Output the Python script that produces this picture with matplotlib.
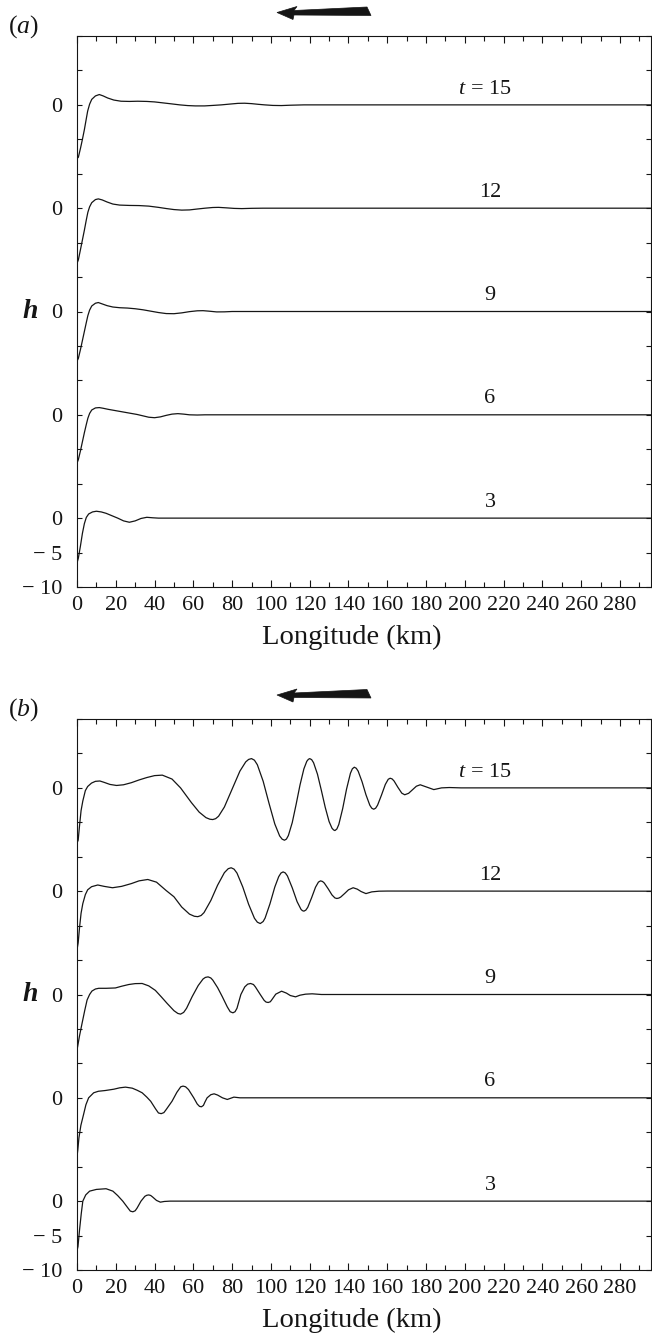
import matplotlib
matplotlib.use("Agg")
import matplotlib.pyplot as plt
from matplotlib.patches import Polygon
from matplotlib.ticker import FixedLocator, MultipleLocator
import matplotlib.transforms as mtransforms

plt.rcParams["font.family"] = ["Liberation Serif", "DejaVu Serif"]
plt.rcParams["mathtext.fontset"] = "custom"
plt.rcParams["mathtext.rm"] = "Liberation Serif"
plt.rcParams["mathtext.it"] = "Liberation Serif:italic"

# ---- times of the profiles (hours) ----
times = [3, 6, 9, 12, 15]

# ---- panel (a): surface elevation h along the section ----
km_a3 = [0, 0.7, 1.8, 2.8, 3.8, 4.8, 6, 8, 10, 12.5, 15, 18, 21, 24, 27, 30, 33, 36, 39, 42, 296]
h_a3 = [-6.5, -5.8, -4.0, -2.2, -0.8, 0.1, 0.6, 0.9, 1.0, 0.9, 0.7, 0.35, 0.0, -0.4, -0.6, -0.4, -0.05, 0.12, 0.05, 0.0, 0.0]

km_a6 = [0, 0.7, 1.8, 2.8, 3.8, 4.8, 5.6, 6.5, 7.6, 9.5, 11.5, 13.5, 16, 19, 22, 25, 28, 31, 34, 37,
         40, 43, 46, 49, 52, 55, 58, 62, 66, 296]
h_a6 = [-7.0, -6.5, -5.2, -3.9, -2.6, -1.4, -0.5, 0.2, 0.7, 1.0, 1.05, 0.95, 0.8, 0.65, 0.5, 0.35, 0.2, 0.05, -0.15, -0.35,
        -0.42, -0.3, -0.08, 0.1, 0.17, 0.1, 0.0, -0.03, 0.0, 0.0]

km_a9 = [0, 0.7, 1.8, 2.8, 3.8, 4.8, 5.6, 6.5, 7.6, 9.5, 11, 13, 15.5, 18.5, 22, 26, 30, 34, 38, 42,
         46, 50, 54, 58, 62, 65, 68, 72, 76, 80, 296]
h_a9 = [-7.2, -6.8, -5.5, -4.2, -2.9, -1.6, -0.6, 0.2, 0.8, 1.2, 1.3, 1.1, 0.85, 0.65, 0.55, 0.5, 0.4, 0.25, 0.05, -0.15,
        -0.3, -0.32, -0.2, -0.02, 0.1, 0.12, 0.05, -0.06, -0.05, 0.0, 0.0]

km_a12 = [0, 0.7, 1.8, 2.8, 3.8, 4.8, 5.6, 6.5, 7.6, 9.5, 11, 13, 15.5, 18.5, 22, 27, 32, 37, 42, 46,
          50, 54, 58, 62, 66, 70, 73, 77, 81, 85, 90, 96, 296]
h_a12 = [-8.0, -7.5, -6.0, -4.6, -3.2, -1.7, -0.6, 0.2, 0.8, 1.25, 1.35, 1.2, 0.9, 0.6, 0.45, 0.4, 0.38, 0.3, 0.12, -0.05,
         -0.2, -0.28, -0.25, -0.12, 0.0, 0.1, 0.12, 0.05, -0.03, -0.06, -0.02, 0.0, 0.0]

km_a15 = [0, 0.7, 1.8, 2.8, 3.8, 4.8, 5.5, 6.5, 7.6, 9.5, 11.5, 13.5, 15.8, 19, 22.7, 27, 31.3, 36, 40, 44,
          48.6, 53, 57, 61, 65.8, 70, 74.4, 79, 83, 86.4, 90, 93.5, 96.8, 101, 105.4, 110, 117, 296]
h_a15 = [-7.8, -7.6, -6.3, -5.0, -3.6, -2.0, -0.9, 0.1, 0.8, 1.3, 1.5, 1.3, 1.0, 0.7, 0.53, 0.5, 0.53, 0.5, 0.43, 0.3,
         0.15, 0.0, -0.1, -0.15, -0.15, -0.08, 0.0, 0.12, 0.22, 0.24, 0.18, 0.08, 0.0, -0.08, -0.1, -0.05, 0.0, 0.0]

# ---- panel (b): surface elevation h along the section ----
km_b3 = [0, 0.5, 1.3, 2.2, 3, 4.5, 6.5, 10, 15, 18.5, 21, 23.6, 26, 27.5, 28.8, 30, 31, 33, 35, 36,
         37, 38, 39, 41, 43, 45, 48, 296]
h_b3 = [-7.2, -6.6, -4.2, -1.8, 0.0, 0.9, 1.45, 1.7, 1.8, 1.45, 0.8, 0.0, -0.9, -1.45, -1.55, -1.4, -1.0, 0.0, 0.7, 0.85,
        0.9, 0.82, 0.6, 0.1, -0.15, -0.05, 0.0, 0.0]

km_b6 = [0, 0.4, 1.0, 2, 3.4, 4.6, 6, 8.6, 11, 14.6, 19, 22, 25, 28.5, 31, 33.6, 36, 38, 40.5, 42,
         43.4, 44.8, 46, 49, 51.5, 53.5, 54.7, 56, 57.5, 60.2, 62, 63.2, 64.2, 65.2, 66, 67.1, 69, 70.7, 72.5, 75,
         77.5, 80.9, 84, 296]
h_b6 = [-8.5, -7.6, -5.8, -4.0, -2.4, -1.0, 0.0, 0.73, 0.95, 1.06, 1.25, 1.45, 1.55, 1.4, 1.1, 0.73, 0.1, -0.5, -1.6, -2.2,
        -2.3, -2.15, -1.7, -0.5, 0.8, 1.6, 1.7, 1.6, 1.2, 0.0, -0.9, -1.25, -1.3, -1.1, -0.6, 0.0, 0.45, 0.58, 0.4, 0.0,
        -0.24, 0.1, 0.0, 0.0]

km_b9 = [0, 0.3, 1.3, 2.6, 4, 5.2, 6.5, 7.7, 9.5, 11.2, 15, 19.8, 23, 26.7, 30, 33.6, 37, 40.4, 43.5, 46.5,
         50, 52, 53.4, 55, 56.5, 59.4, 62.5, 65, 66.2, 67.6, 69, 70, 72.5, 74.9, 77.5, 79, 80.4, 81.5, 82.5, 84.5,
         86.5, 88, 89.5, 91, 92, 94.5, 96.5, 97.5, 98.6, 99.7, 100.5, 102.5, 105.5, 108, 110, 112.7, 115, 117.9, 121.3, 126,
         296]
h_b9 = [-8.0, -7.6, -6.0, -4.2, -2.3, -0.8, 0.0, 0.5, 0.8, 0.9, 0.9, 0.95, 1.2, 1.45, 1.58, 1.6, 1.25, 0.6, -0.35, -1.3,
        -2.35, -2.75, -2.85, -2.6, -2.0, -0.3, 1.3, 2.25, 2.48, 2.56, 2.4, 2.1, 1.0, -0.3, -1.8, -2.5, -2.66, -2.5, -2.0, 0.0,
        1.1, 1.5, 1.6, 1.45, 1.1, 0.0, -0.85, -1.1, -1.16, -1.05, -0.75, 0.05, 0.48, 0.2, -0.15, -0.34, -0.1, 0.05, 0.1, 0.0,
        0.0]

km_b12 = [0, 0.6, 1.3, 2.1, 3, 4.3, 5.5, 7.5, 10.7, 14, 18.3, 23, 28, 32, 36.5, 41, 46, 50, 54, 58,
          60.5, 62.3, 64, 65.5, 69, 72.5, 76, 78, 79.5, 81, 82.5, 85.5, 88.5, 91.5, 93, 94.5, 96, 97, 99.5, 102,
          104, 105.2, 106.3, 107.4, 108.5, 111, 113.5, 115.5, 116.2, 117, 118, 119, 121, 123, 124.5, 125.6, 126.6, 127.5, 129.5, 131.5,
          133, 134, 135, 136, 138, 140, 142.4, 144.5, 146.5, 149, 152, 155.7, 160, 296]
h_b12 = [-8.5, -7.5, -5.3, -3.2, -1.8, -0.5, 0.2, 0.65, 0.9, 0.7, 0.5, 0.7, 1.1, 1.5, 1.7, 1.31, 0.09, -0.81, -2.3, -3.33,
         -3.64, -3.7, -3.53, -3.11, -1.36, 0.87, 2.69, 3.27, 3.4, 3.2, 2.63, 0.6, -1.9, -3.93, -4.5, -4.7, -4.4, -3.9, -1.84, 0.6,
         2.1, 2.64, 2.8, 2.65, 2.22, 0.49, -1.52, -2.63, -2.82, -2.9, -2.75, -2.34, -0.94, 0.58, 1.32, 1.5, 1.41, 1.19, 0.36, -0.55,
         -0.98, -1.06, -1.0, -0.85, -0.34, 0.2, 0.5, 0.3, -0.05, -0.35, -0.1, 0.0, 0.02, 0.0]

km_b15 = [0, 0.6, 1.3, 2.1, 3, 4.3, 5.5, 7.5, 9.5, 11.8, 14, 17, 20.4, 24, 28, 32, 36, 40, 44, 49,
          53.4, 59, 63, 66.5, 68.5, 70, 71.5, 73, 76, 80, 84, 87, 88.5, 90, 91.5, 93, 96, 99, 102, 104.5,
          105.8, 107, 108, 109, 111, 113, 115, 117, 118.5, 119.3, 120, 121, 122, 124, 126, 128, 130, 131.5, 132.3, 133,
          134, 135, 137, 139, 141, 142, 143, 144, 145, 147, 149, 151, 152, 153, 154, 155, 157, 159, 160.5, 161.5,
          162.5, 163.5, 165.5, 167.5, 169, 171, 173, 175, 177, 180.5, 184, 188, 192, 198, 296]
h_b15 = [-8.0, -7.6, -5.5, -3.3, -1.9, -0.4, 0.2, 0.7, 0.95, 1.0, 0.8, 0.5, 0.35, 0.45, 0.75, 1.15, 1.5, 1.78, 1.85, 1.28,
         0.0, -2.14, -3.52, -4.32, -4.55, -4.6, -4.47, -4.12, -2.78, -0.175, 2.43, 3.77, 4.13, 4.25, 4.02, 3.36, 0.96, -2.22, -5.24, -6.98,
         -7.45, -7.6, -7.43, -6.92, -5.04, -2.39, 0.42, 2.76, 3.86, 4.14, 4.25, 4.1, 3.65, 1.99, -0.35, -2.82, -4.89, -5.86, -6.1, -6.2,
         -5.97, -5.32, -3.02, -0.18, 2.12, 2.77, 3.0, 2.85, 2.42, 0.89, -0.99, -2.52, -2.95, -3.1, -2.95, -2.51, -1.06, 0.5, 1.25, 1.4,
         1.3, 1.0, 0.07, -0.77, -1.0, -0.79, -0.275, 0.24, 0.45, 0.1, -0.25, 0.0, 0.05, 0.0, 0.0]

panel_a = [(km_a3, h_a3), (km_a6, h_a6), (km_a9, h_a9), (km_a12, h_a12), (km_a15, h_a15)]
panel_b = [(km_b3, h_b3), (km_b6, h_b6), (km_b9, h_b9), (km_b12, h_b12), (km_b15, h_b15)]

# ---- layout ----
W, H = 652, 1334
STEP = 15          # vertical separation between successive profiles
LINE = "#151515"

fig = plt.figure(figsize=(W / 100, H / 100), dpi=100)

def px_box(left, top, right, bottom):
    return [left / W, 1 - bottom / H, (right - left) / W, (bottom - top) / H]

def draw_arrow(y_mid):
    pts = [(277, 0.0), (297, -6.0), (294, -2.0), (367, -5.5), (371, 3.0), (294, 2.5), (293, 7.0)]
    poly = Polygon([(x / W, 1 - (y_mid + dy) / H) for x, dy in pts], closed=True,
                   transform=fig.transFigure, facecolor=LINE, edgecolor=LINE, lw=0.5)
    fig.patches.append(poly)

def draw_panel(box, curves, tag, tag_y, arrow_y):
    ax = fig.add_axes(px_box(*box))
    for i, (km, h) in enumerate(curves):
        off = i * STEP
        ax.plot(km, [v + off for v in h], color=LINE, lw=0.9, solid_joinstyle="round")
    ax.set_xlim(0, 296)
    ax.set_ylim(-10, STEP * 4 + 10)

    # curve labels
    for i, t in enumerate(times):
        y = i * STEP + 2.3
        if t == times[-1]:
            ax.text(224, y, r"$t\,=\,15$", ha="right", va="center", fontsize=16, color=LINE)
        else:
            ax.text(213, y, str(t), ha="center", va="center", fontsize=16, color=LINE)

    # x axis
    ax.xaxis.set_major_locator(FixedLocator(list(range(0, 281, 20))))
    ax.xaxis.set_minor_locator(MultipleLocator(10))
    ax.set_xticklabels([str(v) for v in range(0, 281, 20)])
    ax.tick_params(axis="x", which="both", direction="in", top=True, bottom=True,
                   labelsize=16, pad=6.5, width=0.8, colors=LINE)
    ax.tick_params(axis="x", which="major", length=5)
    ax.tick_params(axis="x", which="minor", length=3.3)

    # y axis: a tick every 5 units, zero labelled for each profile
    yt = list(range(-10, STEP * 4 + 11, 5))
    labels = []
    for v in yt:
        if v == -10:
            labels.append("\u2212 10")
        elif v == -5:
            labels.append("\u2212 5")
        elif v >= 0 and v % STEP == 0:
            labels.append("0")
        else:
            labels.append("")
    ax.yaxis.set_major_locator(FixedLocator(yt))
    ax.set_yticklabels(labels)
    ax.tick_params(axis="y", which="major", direction="in", left=True, right=True,
                   length=3.5, width=0.8, labelsize=16, pad=10.5, colors=LINE)

    for s in ax.spines.values():
        s.set_linewidth(0.8)
        s.set_color(LINE)

    ax.set_xlabel("Longitude (km)", fontsize=20.5, color=LINE)
    ax.xaxis.set_label_coords(0.479, -0.068)

    trans = mtransforms.blended_transform_factory(ax.transAxes, ax.transData)
    ax.text(-0.082, 2 * STEP, "h", transform=trans, ha="center", va="center",
            fontsize=20, fontstyle="italic", fontweight="bold", color=LINE)

    fig.text(23 / W, 1 - tag_y / H, r"$(%s)$" % tag, ha="center", va="center",
             fontsize=18.5, color=LINE)
    draw_arrow(arrow_y)
    return ax

draw_panel((77, 36, 651, 587), panel_a, "a", 27, 12.5)
draw_panel((77, 719, 651, 1270), panel_b, "b", 710, 695)

fig.savefig("out.png", dpi=100, facecolor="white")
